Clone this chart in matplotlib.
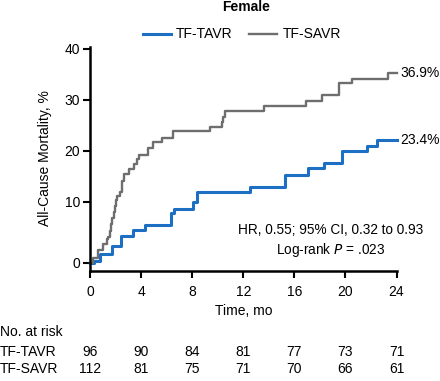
import numpy as np
import matplotlib
matplotlib.use('Agg')
import matplotlib.pyplot as plt
from matplotlib.transforms import blended_transform_factory

plt.rcParams['font.family'] = ['Liberation Sans', 'DejaVu Sans']
plt.rcParams['font.size'] = 10

# ---- data ----
tavr_t = [0, 0.31, 0.78, 1.76, 2.45, 3.33, 4.34, 6.31, 6.61, 8.10, 8.34, 12.55,
          15.3, 17.1, 18.35, 19.75, 21.7, 22.5, 24]
tavr_v = [0, 0.4, 1.4, 2.7, 4.4, 5.4, 6.2, 8.15, 8.85, 10.0, 12.0, 13.0,
          15.3, 16.6, 17.7, 19.9, 21.0, 22.2, 22.2]

savr_t = [0, 0.26, 0.65, 1.04, 1.31, 1.43, 1.55, 1.65, 1.75, 1.85, 1.95, 2.05,
          2.15, 2.35, 2.47, 2.67, 3.06, 3.47, 3.66, 3.84, 4.53, 4.96, 5.62,
          6.49, 9.40, 10.30, 10.45, 10.6, 13.6, 16.9, 18.2, 19.5, 20.5, 23.3, 24]
savr_v = [0, 0.8, 2.2, 3.1, 3.9, 4.3, 5.3, 6.3, 7.3, 8.3, 9.3, 10.3,
          11.2, 12.0, 14.1, 15.4, 16.4, 17.4, 18.4, 19.2, 20.6, 21.8, 22.5,
          23.8, 24.6, 25.7, 26.7, 27.7, 28.7, 29.7, 31.0, 33.3, 34.1, 35.2, 35.2]

end_labels = ['23.4%', '36.9%']
risk_times = [0, 4, 8, 12, 16, 20, 24]
risk_tavr = [96, 90, 84, 81, 77, 73, 71]
risk_savr = [112, 81, 75, 71, 70, 66, 61]
yticks = [0, 10, 20, 30, 40]

blue = '#1c6fc2'
gray = '#6e6e6e'

fig = plt.figure(figsize=(4.4, 3.81), dpi=100)
ax = fig.add_axes([90 / 440, 110 / 381, 306.5 / 440, 224 / 381])

# the 0-10 band is drawn a little taller than the others
k = 61 / 51


def fwd(y):
    y = np.asarray(y, float)
    return np.where(y >= 10, y, 10 - (10 - y) * k)


def inv(s):
    s = np.asarray(s, float)
    return np.where(s >= 10, s, 10 - (10 - s) / k)


ax.set_yscale('function', functions=(fwd, inv))

ax.step(tavr_t, tavr_v, where='post', color=blue, lw=2.2, label='TF-TAVR', clip_on=False)
ax.step(savr_t, savr_v, where='post', color=gray, lw=1.7, label='TF-SAVR', clip_on=False)

ax.set_xlim(0, 24)
ax.set_ylim(-1.31, 40.3)
ax.set_xticks(risk_times)
ax.set_xticklabels([])
ax.set_yticks(yticks)
ax.set_yticklabels([str(v) for v in yticks])
ax.minorticks_off()

for s in ['top', 'right']:
    ax.spines[s].set_visible(False)
for s in ['left', 'bottom']:
    ax.spines[s].set_linewidth(1.8)
ax.tick_params(direction='out', length=5, width=1.5, pad=2, labelsize=10)

# end-of-curve percentages
ax.text(24.27, tavr_v[-1], end_labels[0], va='center', ha='left', fontsize=10)
ax.text(24.27, savr_v[-1], end_labels[1], va='center', ha='left', fontsize=10)

# stats
fig.text(331 / 440, 1 - 230 / 381, 'HR, 0.55; 95% CI, 0.32 to 0.93', ha='center', va='center', fontsize=9.8)
fig.text(331 / 440, 1 - 250 / 381, 'Log-rank $\\it{P}$ = .023', ha='center', va='center', fontsize=9.8)

# title, legend, y label
fig.text(246 / 440, 1 - 7 / 381, 'Female', ha='center', va='center', fontsize=10, fontweight='bold')
fig.legend(loc='center', bbox_to_anchor=(242 / 440, 1 - 34.5 / 381), ncol=2, frameon=False,
           handlelength=2.0, handletextpad=0.4, columnspacing=1.2, borderpad=0, fontsize=10)
fig.text(45 / 440, 1 - 158 / 381, 'All-Cause Mortality, %', rotation=90, ha='center', va='center', fontsize=10)

# x tick labels, axis title, risk table
tr = blended_transform_factory(ax.transData, fig.transFigure)
for i, t in enumerate(risk_times):
    ax.text(t, 1 - 291.5 / 381, str(t), transform=tr, ha='center', va='center', fontsize=10)
    ax.text(t, 1 - 351.5 / 381, str(risk_tavr[i]), transform=tr, ha='center', va='center', fontsize=10)
    ax.text(t, 1 - 369 / 381, str(risk_savr[i]), transform=tr, ha='center', va='center', fontsize=10)
ax.text(12, 1 - 311 / 381, 'Time, mo', transform=tr, ha='center', va='center', fontsize=10)
fig.text(0.0, 1 - 331.5 / 381, 'No. at risk', ha='left', va='center', fontsize=10)
fig.text(0.0, 1 - 351.5 / 381, 'TF-TAVR', ha='left', va='center', fontsize=10)
fig.text(0.0, 1 - 369 / 381, 'TF-SAVR', ha='left', va='center', fontsize=10)

fig.savefig('out.png', dpi=100)
